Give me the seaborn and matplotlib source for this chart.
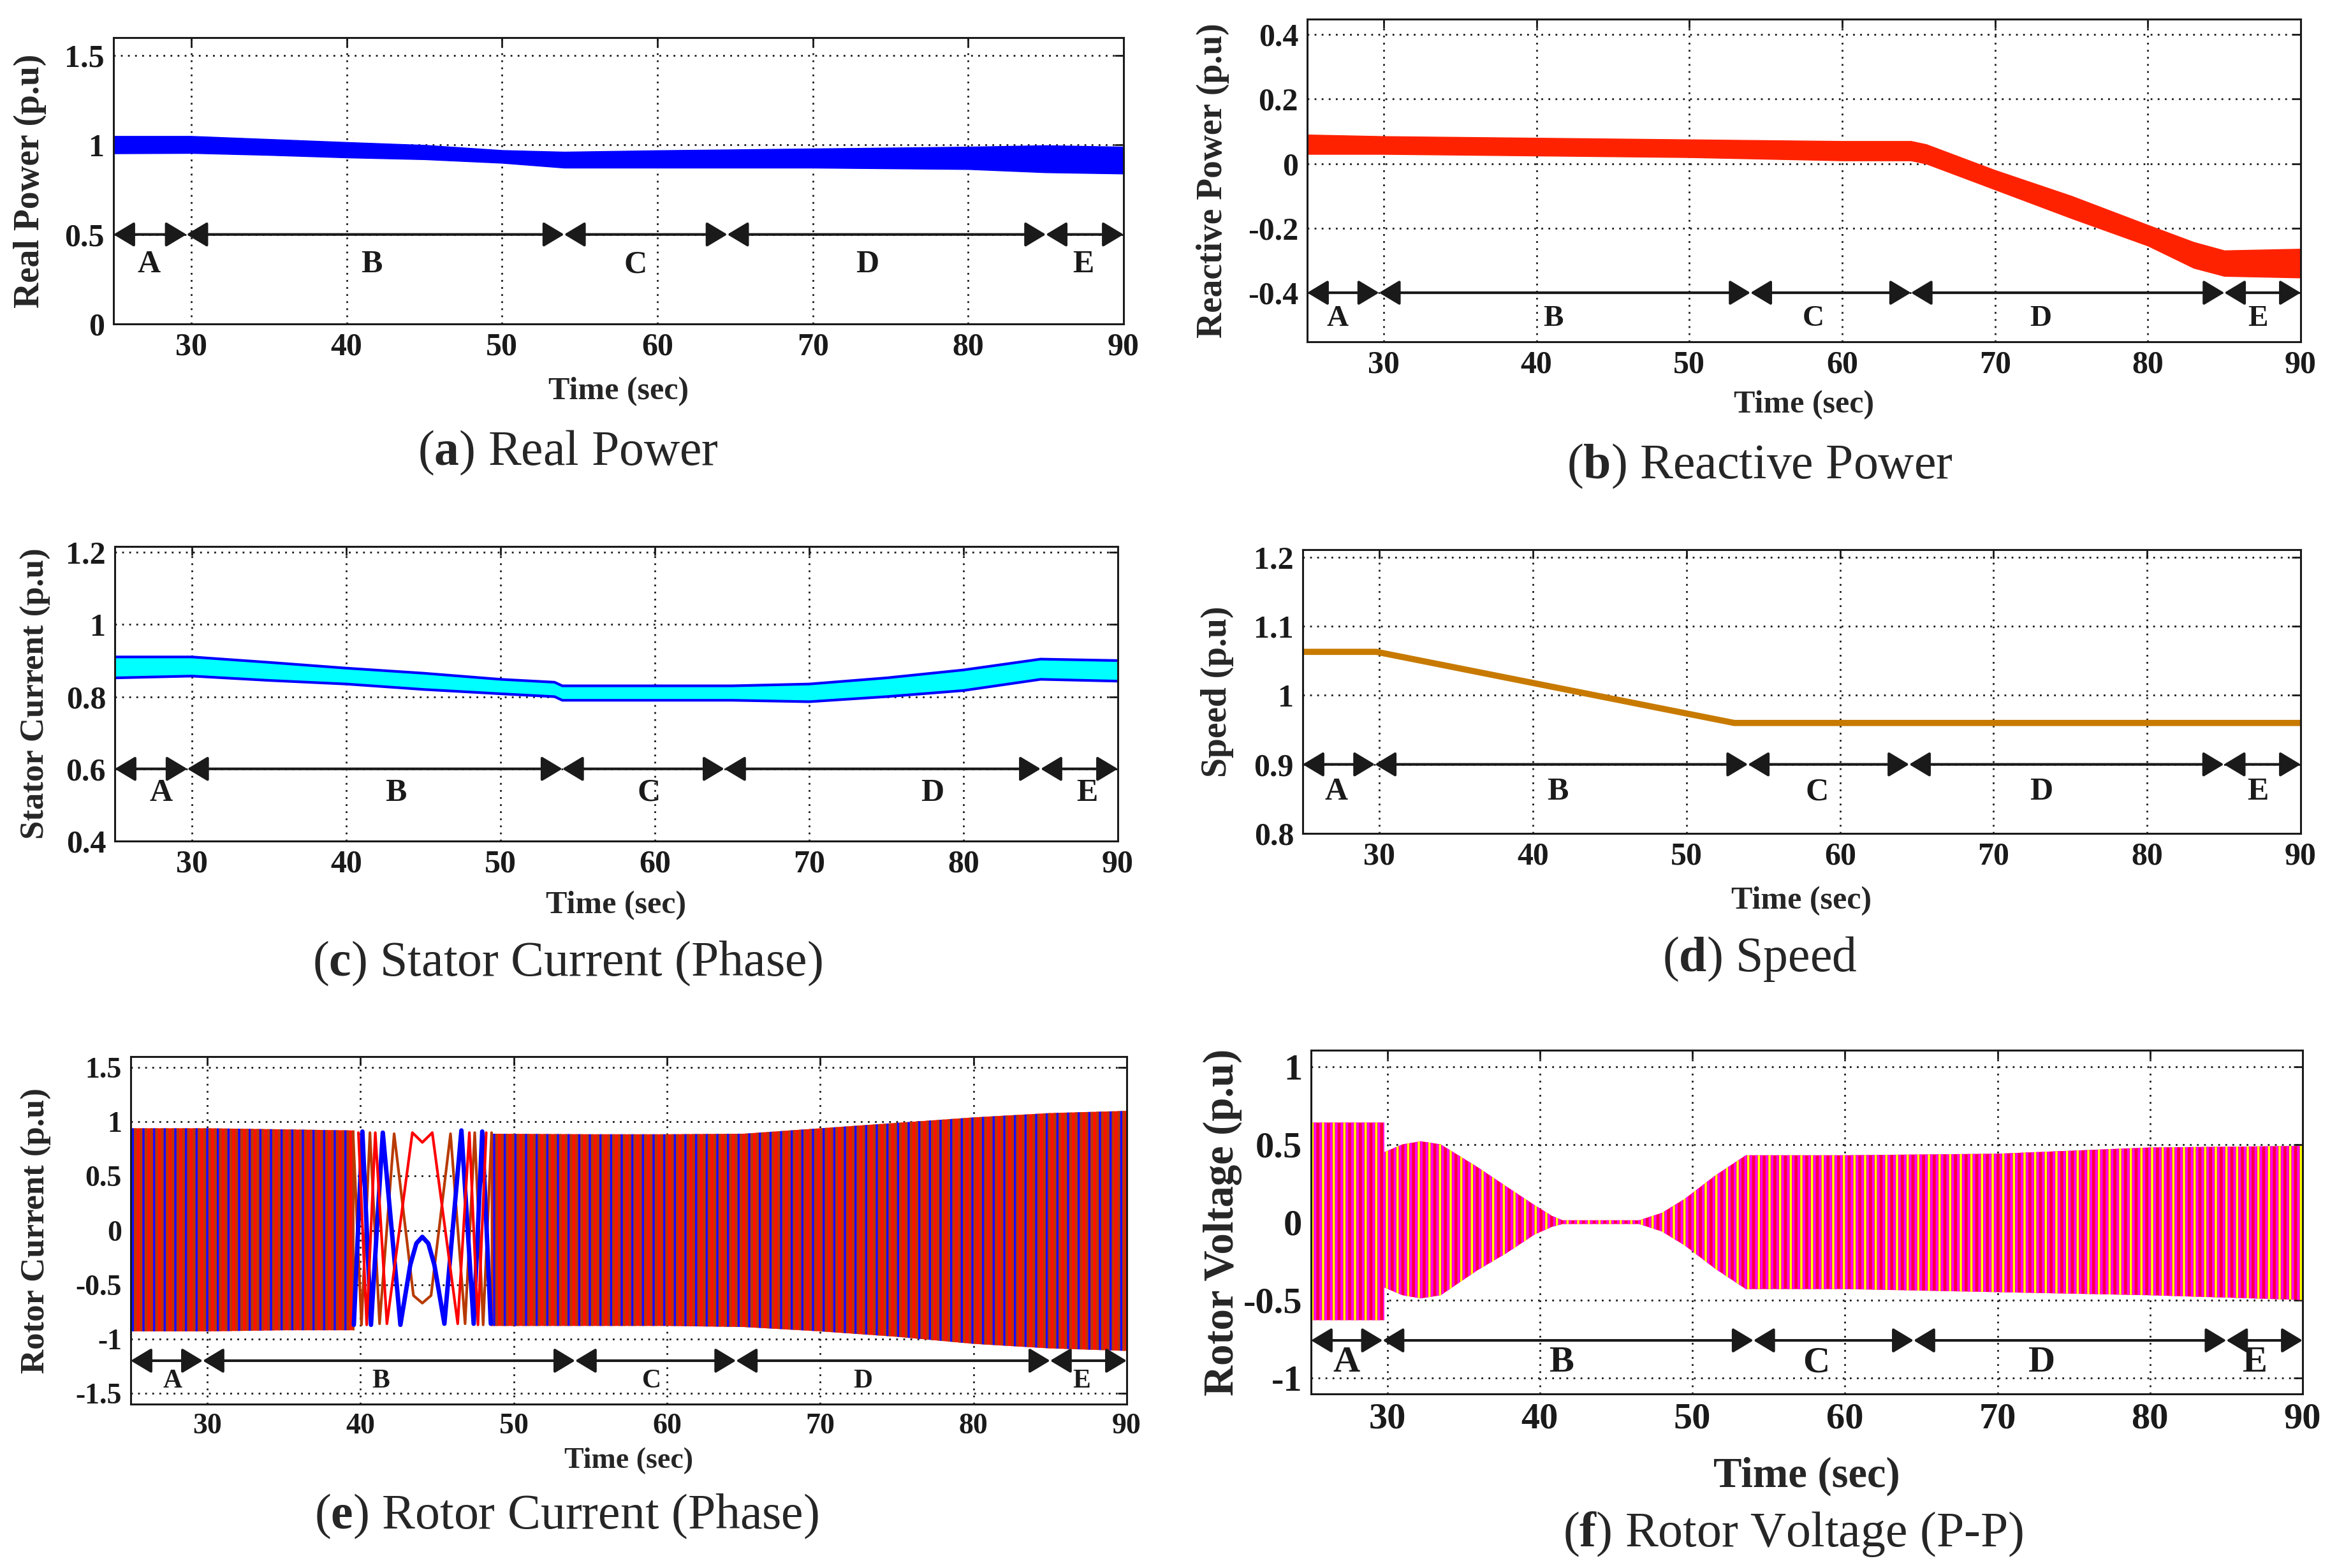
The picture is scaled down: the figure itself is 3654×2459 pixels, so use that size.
import matplotlib
matplotlib.use('Agg')
import matplotlib.pyplot as plt
from matplotlib.ticker import FuncFormatter
import seaborn as sns

# operating zones (sec)
zone_edges = [25, 29.7, 54, 64.5, 85, 90]
zone_names = ['A', 'B', 'C', 'D', 'E']

# (a) real power - band of the noisy trace
p_t = [25, 30, 35, 40, 45, 50, 54, 60, 70, 80, 85, 90]
p_hi = [1.05, 1.05, 1.033, 1.016, 1.0, 0.971, 0.962, 0.97, 0.98, 0.99, 0.998, 0.99]
p_lo = [0.953, 0.955, 0.944, 0.93, 0.92, 0.90, 0.873, 0.873, 0.873, 0.865, 0.847, 0.84]

# (b) reactive power
q_t = [25, 30, 40, 50, 60, 64.5, 65.5, 70, 75, 80, 83, 85, 90]
q_hi = [0.09, 0.085, 0.08, 0.075, 0.07, 0.07, 0.06, -0.02, -0.10, -0.19, -0.243, -0.269, -0.264]
q_lo = [0.03, 0.03, 0.025, 0.02, 0.01, 0.01, 0.0, -0.08, -0.169, -0.254, -0.323, -0.348, -0.353]

# (c) stator current
s_t = [25, 30, 35, 40, 45, 50, 53.5, 54, 60, 65, 70, 75, 80, 85, 90]
s_hi = [0.91, 0.91, 0.895, 0.879, 0.865, 0.848, 0.84, 0.83, 0.83, 0.83, 0.835, 0.852, 0.874, 0.904, 0.90]
s_lo = [0.852, 0.857, 0.845, 0.835, 0.82, 0.808, 0.80, 0.79, 0.79, 0.79, 0.786, 0.80, 0.817, 0.848, 0.843]

# (d) speed
w_t = [25, 29.8, 53.1, 90]
w_v = [1.063, 1.063, 0.96, 0.96]

# (e) rotor current - envelope of the fast part
ir_t1 = [25, 30, 35, 39.6]
ir_hi1 = [0.94, 0.94, 0.93, 0.92]
ir_lo1 = [-0.93, -0.93, -0.92, -0.92]
ir_t2 = [48.5, 55, 60, 65, 70, 75, 80, 85, 90]
ir_hi2 = [0.89, 0.885, 0.885, 0.89, 0.94, 0.99, 1.04, 1.08, 1.10]
ir_lo2 = [-0.88, -0.88, -0.88, -0.89, -0.93, -0.98, -1.045, -1.087, -1.11]
# slow swing of the three phases around 44 s (peaks / troughs)
ia_t = [39.56, 40.12, 40.68, 41.45, 42.6, 43.24, 43.64, 44.03, 44.42, 44.82, 45.47, 46.58, 47.38, 47.94, 48.5]
ia_v = [-0.87, 0.91, -0.87, 0.90, -0.87, -0.32, -0.12, -0.06, -0.12, -0.32, -0.86, 0.92, -0.86, 0.91, -0.86]
ib_t = [39.86, 40.4, 40.96, 41.72, 43.38, 44.03, 44.68, 46.34, 47.1, 47.66, 48.2]
ib_v = [0.90, -0.87, 0.90, -0.86, 0.90, 0.81, 0.90, -0.86, 0.90, -0.87, 0.90]
ic_t = [39.51, 40.06, 40.61, 41.24, 42.19, 43.45, 44.03, 44.6, 45.87, 46.82, 47.45, 48.0, 48.55]
ic_v = [0.90, -0.87, 0.90, -0.86, 0.89, -0.60, -0.67, -0.60, 0.89, -0.86, 0.90, -0.87, 0.90]

# (f) rotor voltage - envelope
v_t = [25, 29.8, 29.8, 31, 32.2, 33.5, 35.9, 37.8, 39.65, 40.8, 41.5, 46.5, 48, 49.5, 51.5, 53.5, 60, 70, 80, 90]
v_hi = [0.64, 0.64, 0.45, 0.50, 0.52, 0.50, 0.355, 0.23, 0.11, 0.04, 0.012, 0.012, 0.06, 0.15, 0.30, 0.43, 0.43, 0.44, 0.48, 0.49]
v_lo = [-0.63, -0.63, -0.42, -0.47, -0.49, -0.47, -0.31, -0.20, -0.08, -0.03, -0.012, -0.012, -0.06, -0.15, -0.30, -0.43, -0.43, -0.45, -0.47, -0.50]

sns.set_theme(style='white')
plt.rcParams['font.family'] = ['Liberation Serif', 'DejaVu Serif']
plt.rcParams['font.weight'] = 'bold'
plt.rcParams['mathtext.fontset'] = 'custom'
plt.rcParams['mathtext.rm'] = 'Liberation Serif'
plt.rcParams['mathtext.bf'] = 'Liberation Serif:bold'
plt.rcParams['hatch.linewidth'] = 2.5

W, H = 3655, 2459
fig = plt.figure(figsize=(W / 100, H / 100), dpi=100)


def box(l, t, r, b):
    return [l / W, 1 - b / H, (r - l) / W, (b - t) / H]


def finish(ax, ylim, yticks, ylabel, arrow_y, letter_x, letter_y,
           fs_tick, fs_lab, fs_ylab, fs_let, xlab_y, ylab_x):
    ax.set_xlim(25, 90)
    ax.set_ylim(*ylim)
    ax.set_xticks([30, 40, 50, 60, 70, 80, 90])
    ax.set_yticks(yticks)
    ax.yaxis.set_major_formatter(FuncFormatter(lambda v, p: '%g' % round(v, 3)))
    ax.tick_params(direction='in', length=10, width=2, top=True, right=True,
                   labelsize=fs_tick, pad=10, colors='k')
    ax.grid(True, color='k', linestyle=(0, (1, 3)), linewidth=2)
    for s in ax.spines.values():
        s.set_linewidth(2.2)
        s.set_color('k')
    ax.set_xlabel('Time (sec)', fontsize=fs_lab, fontweight='bold')
    ax.xaxis.set_label_coords(0.5, xlab_y)
    ax.xaxis.label.set_va('center')
    ax.set_ylabel(ylabel, fontsize=fs_ylab, fontweight='bold')
    ax.yaxis.set_label_coords(ylab_x, 0.5)
    ax.yaxis.label.set_va('center')
    for x0, x1 in zip(zone_edges[:-1], zone_edges[1:]):
        ax.annotate('', xy=(x1, arrow_y), xytext=(x0, arrow_y), annotation_clip=False,
                    arrowprops=dict(arrowstyle='<|-|>,head_length=0.5,head_width=0.3',
                                    color='k', lw=3, shrinkA=0, shrinkB=0,
                                    mutation_scale=40))
    for name, lx in zip(zone_names, letter_x):
        ax.text(lx, letter_y, name, fontsize=fs_let, fontweight='bold',
                ha='center', va='center', color='k')


def caption(x, y, letter, text, fs=56):
    fig.text(x / W, 1 - y / H, r'($\mathbf{%s}$) %s' % (letter, text),
             fontsize=fs, fontweight='normal', ha='center', va='center')


# (a) Real Power
ax = fig.add_axes(box(178, 59, 1762, 508))
ax.fill_between(p_t, p_lo, p_hi, color='#0000FF', lw=1)
finish(ax, (0, 1.6), [0, 0.5, 1, 1.5], 'Real Power (p.u)', 0.5,
       [27.3, 41.6, 58.6, 73.5, 87.4], 0.33, 36, 36, 40, 36, -0.236, -0.083)
caption(891, 710, 'a', 'Real Power')

# (b) Reactive Power
ax = fig.add_axes(box(2050, 30, 3608, 536))
ax.fill_between(q_t, q_lo, q_hi, color='#FF2200', lw=1)
finish(ax, (-0.552, 0.448), [-0.4, -0.2, 0, 0.2, 0.4], 'Reactive Power (p.u)', -0.4,
       [27.0, 41.1, 58.1, 73.0, 87.2], -0.48, 36, 36, 40, 34, -0.196, -0.095)
caption(2760, 731, 'b', 'Reactive Power')

# (c) Stator Current
ax = fig.add_axes(box(180, 857, 1753, 1319))
ax.fill_between(s_t, s_lo, s_hi, color='#00FFFF', lw=0)
sns.lineplot(x=s_t, y=s_hi, ax=ax, color='#0000FF', lw=3)
sns.lineplot(x=s_t, y=s_lo, ax=ax, color='#0000FF', lw=3)
finish(ax, (0.4, 1.216), [0.4, 0.6, 0.8, 1, 1.2], 'Stator Current (p.u)', 0.6,
       [28.0, 43.2, 59.6, 78.0, 88.0], 0.533, 36, 36, 38, 36, -0.219, -0.079)
caption(890, 1511, 'c', 'Stator Current (Phase)')

# (d) Speed
ax = fig.add_axes(box(2043, 862, 3608, 1307))
sns.lineplot(x=w_t, y=w_v, ax=ax, color='#C87A00', lw=7)
finish(ax, (0.8, 1.211), [0.8, 0.9, 1, 1.1, 1.2], 'Speed (p.u)', 0.9,
       [27.2, 41.6, 58.5, 73.1, 87.2], 0.86, 36, 36, 40, 36, -0.238, -0.086)
caption(2760, 1504, 'd', 'Speed')

# (e) Rotor Current
ax = fig.add_axes(box(205, 1657, 1767, 2202))
for tt, lo, hi in [(ir_t1, ir_lo1, ir_hi1), (ir_t2, ir_lo2, ir_hi2)]:
    ax.fill_between(tt, lo, hi, facecolor='#FF1000', edgecolor='#B83A00',
                    hatch='||', lw=0)
    ax.fill_between(tt, lo, hi, facecolor='none', edgecolor='#1010FF',
                    hatch='|', lw=0)
sns.lineplot(x=ic_t, y=ic_v, ax=ax, color='#B83A00', lw=3, sort=False)
sns.lineplot(x=ia_t, y=ia_v, ax=ax, color='#0000FF', lw=5, sort=False)
sns.lineplot(x=ib_t, y=ib_v, ax=ax, color='#FF0000', lw=3, sort=False)
finish(ax, (-1.6, 1.6), [-1.5, -1, -0.5, 0, 0.5, 1, 1.5], 'Rotor Current (p.u)', -1.2,
       [27.75, 41.3, 59.0, 72.8, 87.05], -1.386, 33, 33, 38, 30, -0.163, -0.095)
caption(888, 2378, 'e', 'Rotor Current (Phase)')

# (f) Rotor Voltage
ax = fig.add_axes(box(2056, 1647, 3611, 2186))
ax.fill_between(v_t, v_lo, v_hi, facecolor='#FF0040', edgecolor='#FF00FF',
                hatch='||', lw=0)
ax.fill_between(v_t, v_lo, v_hi, facecolor='none', edgecolor='#FFFF00',
                hatch='|', lw=0)
finish(ax, (-1.104, 1.105), [-1, -0.5, 0, 0.5, 1], 'Rotor Voltage (p.u)', -0.76,
       [27.3, 41.4, 58.1, 72.9, 86.9], -0.905, 42, 48, 48, 42, -0.239, -0.089)
caption(2812, 2406, 'f', 'Rotor Voltage (P-P)')

fig.savefig('out.png', dpi=100)
